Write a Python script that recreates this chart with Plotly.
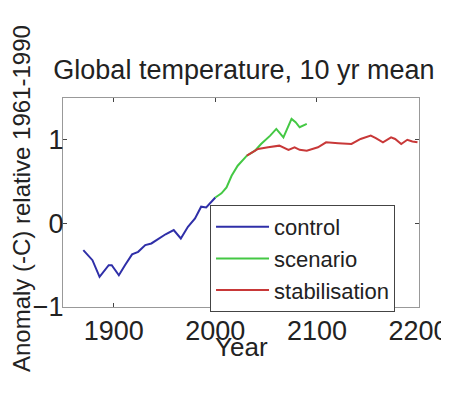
import plotly.graph_objects as go

control_year = [1870, 1879, 1886, 1895, 1898, 1905, 1911, 1918, 1924, 1931, 1937, 1944, 1951, 1959, 1966, 1973, 1980, 1986, 1991, 2000]
control_val = [-0.32, -0.44, -0.64, -0.50, -0.50, -0.62, -0.50, -0.37, -0.34, -0.26, -0.24, -0.18, -0.13, -0.08, -0.18, -0.04, 0.06, 0.20, 0.19, 0.31]

scenario_year = [2000, 2006, 2011, 2016, 2022, 2031, 2039, 2045, 2054, 2060, 2067, 2075, 2079, 2083, 2090]
scenario_val = [0.31, 0.36, 0.43, 0.57, 0.69, 0.81, 0.87, 0.95, 1.05, 1.13, 1.03, 1.25, 1.21, 1.15, 1.19]

stab_year = [2031, 2042, 2052, 2063, 2072, 2078, 2083, 2090, 2101, 2109, 2121, 2134, 2143, 2153, 2158, 2165, 2173, 2177, 2183, 2189, 2194, 2199]
stab_val = [0.81, 0.89, 0.91, 0.93, 0.88, 0.91, 0.88, 0.87, 0.91, 0.97, 0.96, 0.95, 1.01, 1.05, 1.02, 0.97, 1.03, 1.01, 0.95, 1.00, 0.98, 0.97]

x_ticks = [1900, 2000, 2100, 2200]
y_ticks = [-1, 0, 1]

FONT = "Liberation Sans, Arial, sans-serif"

# page body has an 8px default margin, so the figure is 8px smaller than the window
W, H = 441, 386
PL, PR, PT, PB = 55, 30, 90, 87
PW = W - PL - PR
PH = H - PT - PB

fig = go.Figure()
fig.add_trace(go.Scatter(x=control_year, y=control_val, mode="lines", name="control",
                         line=dict(color="#2f2fa8", width=2)))
fig.add_trace(go.Scatter(x=scenario_year, y=scenario_val, mode="lines", name="scenario",
                         line=dict(color="#44c844", width=2)))
fig.add_trace(go.Scatter(x=stab_year, y=stab_val, mode="lines", name="stabilisation",
                         line=dict(color="#c83838", width=2)))

fig.update_layout(
    width=W, height=H,
    margin=dict(l=PL, r=PR, t=PT, b=PB),
    paper_bgcolor="white", plot_bgcolor="white",
    font=dict(family=FONT, color="#222222", size=26),
    title=dict(text="Global temperature, 10 yr mean", x=0.535, xanchor="center",
               y=1 - 62 / H, yanchor="middle", font=dict(size=27)),
    showlegend=True,
    legend=dict(x=0.413, y=1 - (197 - PT) / PH, xanchor="left", yanchor="top",
                bgcolor="white", bordercolor="#444444", borderwidth=1,
                font=dict(size=22), tracegroupgap=0, itemwidth=53),
    xaxis=dict(range=[1850, 2200.5], tickvals=x_ticks, ticks="inside", ticklen=4,
               showline=True, linecolor="#999999", linewidth=1, mirror="ticks",
               showgrid=False, zeroline=False, tickfont=dict(size=27), automargin=False),
    yaxis=dict(range=[-1, 1.5], tickvals=y_ticks, ticks="inside", ticklen=4,
               showline=True, linecolor="#999999", linewidth=1, mirror="ticks",
               showgrid=False, zeroline=False, tickfont=dict(size=27), automargin=False,
               ticklabelstandoff=-7),
)
fig.add_annotation(text="Anomaly (-C) relative 1961-1990", textangle=-90,
                   xref="paper", yref="paper", x=(13 - PL) / PW, y=1 - (191 - PT) / PH,
                   xanchor="center", yanchor="middle", showarrow=False,
                   font=dict(size=24))
fig.add_annotation(text="Year", xref="paper", yref="paper", x=0.5, y=-40 / PH,
                   xanchor="center", yanchor="middle", showarrow=False,
                   font=dict(size=26))

fig.write_html("out.html")
